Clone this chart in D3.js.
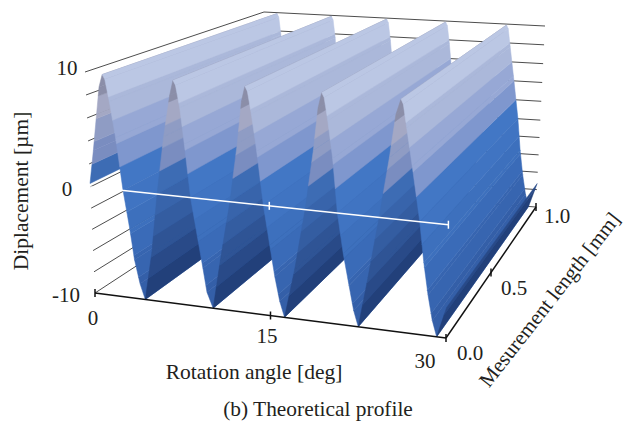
<!DOCTYPE html>
<html>
<head>
<meta charset="utf-8">
<script src="https://cdn.jsdelivr.net/npm/d3@7"></script>
<style>
  body { margin: 0; background: #fff; }
  text { font-family: "Liberation Serif", serif; fill: #231f20; }
</style>
</head>
<body>
<div class="d3Chart"></div>
<script>
var angles = [
  0, 0.4, 0.8, 1.1, 1.4, 1.6, 1.9, 2.3, 2.75, 3.2, 3.5, 3.9, 4.3,
  5, 5.6, 6.3, 6.9, 7.2, 7.4, 7.7, 8, 8.4, 8.9, 9.3, 9.6, 10.1,
  10.8, 11.7, 12.4, 12.8, 13.1, 13.3, 13.6, 14, 14.5, 15, 15.4, 15.8, 16.2,
  17.1, 18, 18.7, 19.1, 19.4, 19.6, 19.9, 20.3, 20.7, 21.2, 21.7, 22.1, 22.5,
  23.3, 24.2, 25, 25.5, 25.9, 26.1, 26.4, 26.9, 27.6, 28, 28.4, 28.8, 29.2, 30,
];
var displacement = [
  0.3, 3.2, 6.4, 8.8, 9.9, 9.5, 7.6, 4.5, 0, -3.6, -6.4, -8.6, -10,
  -5.5, 0, 5, 8.6, 9.9, 9.5, 7.6, 4.5, 0, -3.6, -6.4, -8.6, -10,
  -5.5, 0, 5, 8.6, 9.9, 9.5, 7.6, 4.5, 0, -3.6, -6.4, -8.6, -10,
  -5.5, 0, 5, 8.6, 9.9, 9.5, 7.6, 4.5, 0, -3.6, -6.4, -8.6, -10,
  -5.5, 0, 5, 8.6, 9.9, 9.5, 7.6, 4.5, 0, -3.6, -6.4, -8.6, -10, -7.3,
];
var angleTicks = [0, 15, 30];
var lengthTicks = [0, 0.5, 1];
var dispTicks = [-10, 0, 10];
var dispGrid = [-10, -8, -6, -4, -2, 0, 2, 4, 6, 8, 10];

// colour bands of the surface, lowest first
var bandEdges = [-8, -6, -4, -2, 0, 2, 4, 6, 8];
var outerColors = ["#345fa8", "#3765b0", "#3a6bb8", "#3d70bd", "#4074c2", "#4277c5", "#7f97ce", "#97a8d5", "#abb8da", "#bbc7e4"];
var innerColors = ["#22407a", "#294a88", "#2f5495", "#345da1", "#3864ab", "#3d6cb4", "#7a8dc0", "#8f9cc4", "#a4a8c4", "#8b8ea8"];

var width = 625;
var height = 421;

var svg = d3
  .select(".d3Chart")
  .append("svg")
  .attr("width", width)
  .attr("height", height);

//#region projection

// box corners on screen: [x, y, z] index with 0 = low end, 1 = high end
var corners = {
  "000": [95, 293], "100": [446, 338], "010": [257, 187], "110": [536, 207],
  "001": [85, 72], "101": [451, 102], "011": [264, 12], "111": [545, 26],
};
var xScale = d3.scaleLinear().domain([0, 30]).range([0, 1]);
var yScale = d3.scaleLinear().domain([0, 1]).range([0, 1]);
var zScale = d3.scaleLinear().domain([-10, 0, 10]).range([0, 0.48, 1]);

function project(a, l, d) {
  var u = xScale(a), v = yScale(l), w = zScale(d);
  var p = [0, 0];
  [0, 1].forEach((i) => [0, 1].forEach((j) => [0, 1].forEach((k) => {
    var f = (i ? u : 1 - u) * (j ? v : 1 - v) * (k ? w : 1 - w);
    var c = corners["" + i + j + k];
    p[0] += f * c[0];
    p[1] += f * c[1];
  })));
  return p;
}

var line = d3.line();

//#endregion

//#region walls

var grid = svg.append("g").attr("stroke", "#4d4d4d").attr("fill", "none");
dispGrid.forEach((d) => {
  grid.append("path").attr("d", line([project(0, 0, d), project(0, 1, d), project(30, 1, d)]));
});

//#endregion

//#region surface

var outerColor = d3.scaleThreshold().domain(bandEdges).range(outerColors);
var innerColor = d3.scaleThreshold().domain(bandEdges).range(innerColors);
var levels = [-10].concat(bandEdges, [10]);

// cut every profile segment at the band edges, ordered from back to front
var faces = [];
d3.pairs(d3.zip(angles, displacement)).forEach(([p, q]) => {
  var toX = d3.scaleLinear().domain([p[1], q[1]]).range([p[0], q[0]]);
  var lo = Math.min(p[1], q[1]), hi = Math.max(p[1], q[1]);
  var cuts = levels.filter((z) => z > lo && z < hi).concat([lo, hi]).sort(d3.ascending);
  d3.pairs(cuts).forEach(([z0, z1]) => {
    faces.push({
      pts: [[toX(z0), z0], [toX(z1), z1]],
      color: (q[1] < p[1] ? outerColor : innerColor)((z0 + z1) / 2),
    });
  });
});

svg
  .append("g")
  .selectAll("path")
  .data(faces)
  .enter()
  .append("path")
  .attr("d", (f) =>
    line([
      project(f.pts[0][0], 0, f.pts[0][1]),
      project(f.pts[1][0], 0, f.pts[1][1]),
      project(f.pts[1][0], 1, f.pts[1][1]),
      project(f.pts[0][0], 1, f.pts[0][1]),
    ]) + "Z"
  )
  .attr("fill", (f) => f.color)
  .attr("stroke", (f) => f.color)
  .attr("stroke-width", 0.5);

//#endregion

//#region axes

function axisLine(a, b, color) {
  svg.append("path").attr("d", line([a, b])).attr("stroke", color).attr("stroke-width", 1.5).attr("fill", "none");
}

function tick(p, color) {
  axisLine([p[0], p[1] - 4], [p[0], p[1] + 4], color);
}

// white zero line crossing the surface
axisLine(project(0, 0, 0), project(30, 0, 0), "#fff");
angleTicks.slice(1).forEach((a) => tick(project(a, 0, 0), "#fff"));

axisLine(project(0, 0, -10), project(30, 0, -10), "#111");
angleTicks.forEach((a) => tick(project(a, 0, -10), "#111"));
axisLine(project(30, 0, -10), project(30, 1, -10), "#111");
lengthTicks.slice(1).forEach((l) => tick(project(30, l, -10), "#111"));

//#endregion

//#region labels

function label(str, x, y, size, rotate) {
  svg
    .append("text")
    .text(str)
    .attr("text-anchor", "middle")
    .attr("font-size", size)
    .attr("transform", `translate(${x},${y}) rotate(${rotate || 0})`);
}

var dispLabelX = [66, 67, 67];
var dispLabelY = [302, 196, 75];
dispTicks.forEach((d, i) => label(d, dispLabelX[i], dispLabelY[i], 21));

var angleLabelX = [93, 267, 425];
var angleLabelY = [325, 343, 368];
angleTicks.forEach((a, i) => label(a, angleLabelX[i], angleLabelY[i], 21));

var lengthLabelX = [470, 514, 557];
var lengthLabelY = [360, 295, 223];
lengthTicks.forEach((l, i) => label(l.toFixed(1), lengthLabelX[i], lengthLabelY[i], 21));

label("Diplacement [µm]", 28, 191, 21.5, -90);
label("Rotation angle [deg]", 254, 379, 21.5);
label("Mesurement length [mm]", 555, 304, 21, -52);
label("(b) Theoretical profile", 318, 416, 21.4);

//#endregion
</script>
</body>
</html>
